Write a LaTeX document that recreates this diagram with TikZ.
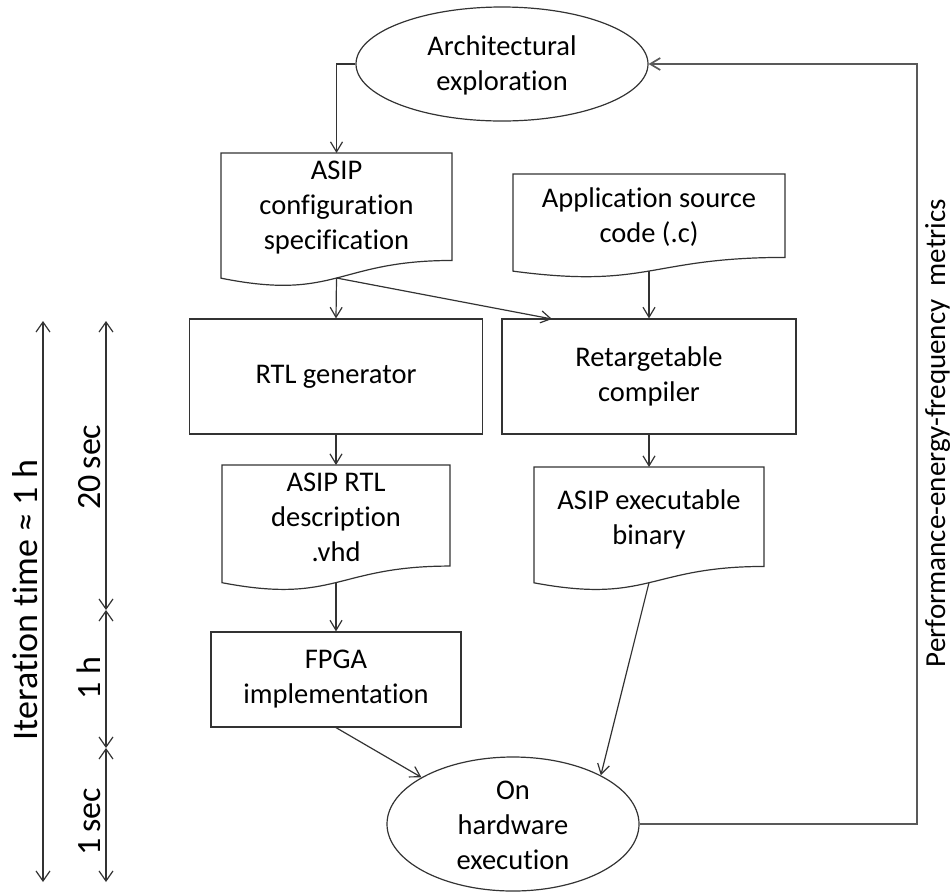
\documentclass[tikz,border=0pt]{standalone}
\usepackage{fontspec}
\setmainfont{Carlito}[Ligatures={NoCommon}]
\usetikzlibrary{arrows.meta,shapes.geometric}
\newcommand\mydoc[4]{%
  \draw[shapeline] (#1,#3) -- (#2,#3) -- (#2,{#3+0.802*#4})
    .. controls ({(#1+#2)/2},{#3+0.802*#4}) and ({(#1+#2)/2},{#3+1.1075*#4}) ..
    (#1,{#3+0.934*#4}) -- cycle;}
\begin{document}
\begin{tikzpicture}[x=1pt,y=-1pt,
  shapeline/.style={draw=black!80, line width=1.2pt},
  lbl/.style={align=center, font=\fontsize{28.5}{35}\selectfont, inner sep=0pt, text=black},
  boxnode/.style={shapeline, rectangle, inner sep=0pt, font=\fontsize{28.5}{35}\selectfont, align=center},
  ellnode/.style={shapeline, ellipse, inner sep=0pt},
  arr/.style={draw=black!80, line width=1.2pt, -{Straight Barb[length=10pt,width=12pt]}},
  fbline/.style={draw=black!65, line width=1.7pt, -{Straight Barb[length=10pt,width=12pt]}},
  tline/.style={draw=black!80, line width=1.2pt, {Straight Barb[length=10pt,width=14pt]}-{Straight Barb[length=10pt,width=14pt]}},
  tlbl/.style={rotate=90, anchor=base, inner sep=0pt, font=\fontsize{34}{40}\selectfont}]
\useasboundingbox (0,0) rectangle (952,895);

% top ellipse
\node[ellnode, minimum width=292pt, minimum height=114pt] (A) at (502,64) {};
\node[lbl] (At) at (502,65) {Architectural\\exploration};

% ASIP configuration specification
\mydoc{221}{452}{153}{134}
\node[lbl] (B) at (336.5,208) {ASIP\\configuration\\specification};
\coordinate (Btop) at (336.5,153);
\coordinate (Bbot) at (336.5,278);

% Application source code
\mydoc{513}{785}{174}{104}
\node[lbl] (C) at (649,217) {Application source\\code (.c)};
\coordinate (Cbot) at (649,271);

% RTL generator / Retargetable compiler
\node[boxnode, minimum width=293pt, minimum height=115pt] (D) at (336,376.5) {RTL generator};
\node[boxnode, minimum width=294pt, minimum height=115pt] (E) at (649,376.5) {Retargetable\\compiler};
\coordinate (Etop) at (552,319);

% ASIP RTL description
\mydoc{222}{450}{465}{126}
\node[lbl] (F) at (336,517) {ASIP RTL\\description\\.vhd};
\coordinate (Ftop) at (336,465);
\coordinate (Fbot) at (336,582.6);

% ASIP executable binary
\mydoc{534}{764}{467}{124}
\node[lbl] (G) at (649,519) {ASIP executable\\binary};
\coordinate (Gtop) at (649,467);
\coordinate (Gbot) at (649,582.7);

% FPGA implementation
\node[boxnode, minimum width=250pt, minimum height=95pt] (H) at (336,679.5) {FPGA\\implementation};

% On hardware execution
\node[ellnode, minimum width=252pt, minimum height=134pt] (I) at (513,824) {};
\node[lbl] (It) at (513,825) {On\\hardware\\execution};

% connectors
\draw[arr] (A.west) -| (Btop);
\draw[arr] (Bbot) -- (D.north);
\draw[arr] (Bbot) -- (Etop);
\draw[arr] (Cbot) -- (E.north);
\draw[arr] (D.south) -- (Ftop);
\draw[arr] (E.south) -- (Gtop);
\draw[arr] (Fbot) -- (H.north);
\draw[arr] (H.south) -- (I.153);
\draw[arr] (Gbot) -- (I.29);
\coordinate (fb) at (917,824);
\draw[fbline] (I.east) -- (fb) |- (A.east);

\node[rotate=90, anchor=base, inner sep=0pt, font=\fontsize{29}{34}\selectfont] (metrics) at (945,433) {Performance-energy-frequency\ \ metrics};

% time lines
\coordinate (t0) at (43,321);
\coordinate (t1) at (43,882);
\draw[tline] (t0) -- (t1);
\node[rotate=90, anchor=base, inner sep=0pt, font=\fontsize{36}{42}\selectfont] (iter) at (37,600) {Iteration time ≈ 1 h};

\coordinate (s0) at (106,321);
\coordinate (s1) at (106,610);
\coordinate (s2) at (106,748);
\coordinate (s3) at (106,882);
\draw[tline] (s0) -- (s1);
\draw[tline] (s1) -- (s2);
\draw[tline] (s2) -- (s3);
\node[tlbl] (l20) at (100,467) {20\,sec};
\node[tlbl] (l1h) at (100,678) {1 h};
\node[tlbl] (l1s) at (100,822) {1\,sec};
\end{tikzpicture}
\end{document}
